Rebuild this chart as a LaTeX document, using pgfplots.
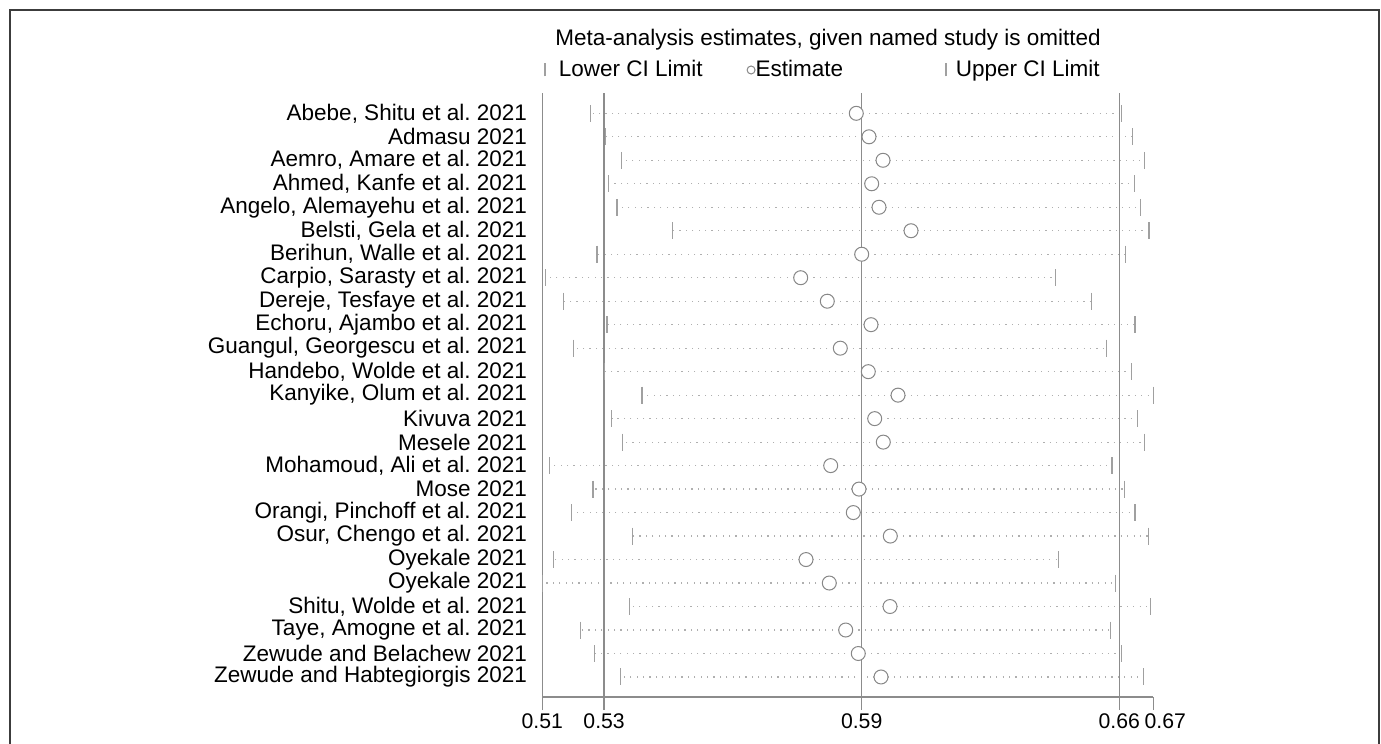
\documentclass[border=0pt]{standalone}
\usepackage{pgfplots}
\pgfplotsset{compat=1.18}
\usepackage{pgfplotstable}
\usepackage{fontspec}
\setmainfont{Liberation Sans}
\frenchspacing
\newcommand\myfont{\fontsize{11.25}{13.5}\selectfont}
\newcommand\xfont{\fontsize{10.6}{12.7}\selectfont}
\definecolor{refc}{RGB}{140,140,140}
\definecolor{barc}{RGB}{160,160,160}
\definecolor{circc}{RGB}{135,135,135}
\definecolor{dotc}{RGB}{175,175,175}
\definecolor{framec}{RGB}{60,60,60}

\pgfplotstableread{
y lo est hi
25 0.52625 0.59265 0.6589
24 0.5299 0.59583 0.66175
23 0.5339 0.59933 0.66465
22 0.53065 0.5965 0.66225
21 0.5328 0.59833 0.66375
20 0.54675 0.60633 0.66583
19 0.52783 0.594 0.66
18 0.515 0.57875 0.6425
17 0.5194 0.5854 0.6515
16 0.53033 0.59633 0.66233
15 0.522 0.58865 0.65525
14 0.52975 0.59565 0.6615
13 0.53908 0.60308 0.6669
12 0.5315 0.59725 0.663
11 0.53415 0.5994 0.66475
10 0.516 0.58625 0.65658
9 0.52683 0.59333 0.65965
8 0.5214 0.5919 0.66233
7 0.53665 0.60115 0.66565
6 0.517 0.58008 0.64315
5 0.51425 0.5859 0.6575
4 0.536 0.60108 0.66615
3 0.52365 0.59 0.65625
2 0.52715 0.59315 0.659
1 0.53365 0.59883 0.6645
}\data

\begin{document}
\begin{tikzpicture}
\begin{axis}[
  at={(0,0)}, anchor=south west,
  scale only axis, width=305.5pt, height=302pt,
  xmin=0.51415, xmax=0.6669, ymin=0.148, ymax=25.865,
  axis x line*=bottom, axis y line*=left,
  axis line style={refc, line width=0.75pt},
  xtick={0.51415,0.5296,0.594,0.6584,0.6669},
  xticklabels={0.51,0.53,0.59,0.66,\hspace*{12pt}0.67},
  xtick align=outside,
  major x tick style={refc, line width=0.75pt},
  major tick length=6.5pt,
  ytick={1,...,25},
  yticklabels={{Zewude and Habtegiorgis 2021},{Zewude and Belachew 2021},{Taye, Amogne et al. 2021},{Shitu, Wolde et al. 2021},{Oyekale 2021},{Oyekale 2021},{Osur, Chengo et al. 2021},{Orangi, Pinchoff et al. 2021},{Mose 2021},{Mohamoud, Ali et al. 2021},{Mesele 2021},{Kivuva 2021},{Kanyike, Olum et al. 2021},{Handebo, Wolde et al. 2021},{Guangul, Georgescu et al. 2021},{Echoru, Ajambo et al. 2021},{Dereje, Tesfaye et al. 2021},{Carpio, Sarasty et al. 2021},{Berihun, Walle et al. 2021},{Belsti, Gela et al. 2021},{Angelo, Alemayehu et al. 2021},{Ahmed, Kanfe et al. 2021},{Aemro, Amare et al. 2021},{Admasu 2021},{Abebe, Shitu et al. 2021}},
  major y tick style={draw=none},
  yticklabel style={font=\myfont, anchor=east, inner sep=0pt, xshift=-7.5pt},
  xticklabel style={font=\xfont, anchor=north, inner sep=0pt, yshift=-1.8pt},
  /pgf/number format/assume math mode=true,
  every axis title shift=0pt,
  title={Meta-analysis estimates, given named study is omitted},
  title style={font=\myfont, at={(axis description cs:0.4676,1.0778)}, anchor=base, inner sep=0pt},
  legend columns=3,
  legend style={draw=none, fill=none, inner sep=0pt, outer sep=0pt,
    at={(axis description cs:0,1)}, anchor=west, xshift=1pt, yshift=11.5pt,
    font=\myfont, nodes={inner sep=0pt}, /tikz/column sep=0pt},
  clip=false,
]
\addplot[only marks, mark=none, forget plot,
  error bars/.cd, x dir=both, x explicit, error mark=none,
  error bar style={dotc, line width=0.6pt, dash pattern=on 0.6pt off 2.6pt}]
  table[x=est, y=y, x error plus expr=\thisrow{hi}-\thisrow{est}, x error minus expr=\thisrow{est}-\thisrow{lo}] {\data};
\addplot[only marks, mark=|, mark size=4.25pt, mark options={barc, line width=0.75pt}, forget plot]
  table[x=lo, y=y] {\data};
\addplot[only marks, mark=|, mark size=4.25pt, mark options={barc, line width=0.75pt}, forget plot]
  table[x=hi, y=y] {\data};
\addplot[only marks, mark=*, mark size=3.5pt, mark options={draw=circc, fill=white, line width=0.5pt}, forget plot]
  table[x=est, y=y] {\data};
\addplot[refc, line width=0.75pt, forget plot] coordinates {(0.5296,0.148) (0.5296,25.865)};
\addplot[refc, line width=0.75pt, forget plot] coordinates {(0.594,0.148) (0.594,25.865)};
\addplot[refc, line width=0.75pt, forget plot] coordinates {(0.6584,0.148) (0.6584,25.865)};
\addlegendimage{legend image code/.code={\draw[barc, line width=0.75pt] (0pt,-3.25pt) -- (0pt,3.25pt);}}
\addlegendentry{\makebox[100.4pt][l]{\hspace*{6.5pt}Lower CI Limit}}
\addlegendimage{legend image code/.code={\draw[circc, line width=0.5pt] (0pt,0pt) circle (2pt);}}
\addlegendentry{\makebox[94.9pt][l]{Estimate}}
\addlegendimage{legend image code/.code={\draw[barc, line width=0.75pt] (0pt,-3.25pt) -- (0pt,3.25pt);}}
\addlegendentry{\hspace*{4.5pt}Upper CI Limit}
\end{axis}
\draw[framec, line width=1pt] (-266.15pt,-60pt) rectangle (418.35pt,343.5pt);
\pgfresetboundingbox
\useasboundingbox (-271.15pt,-23.5pt) rectangle (419.35pt,348.5pt);
\end{tikzpicture}
\end{document}
